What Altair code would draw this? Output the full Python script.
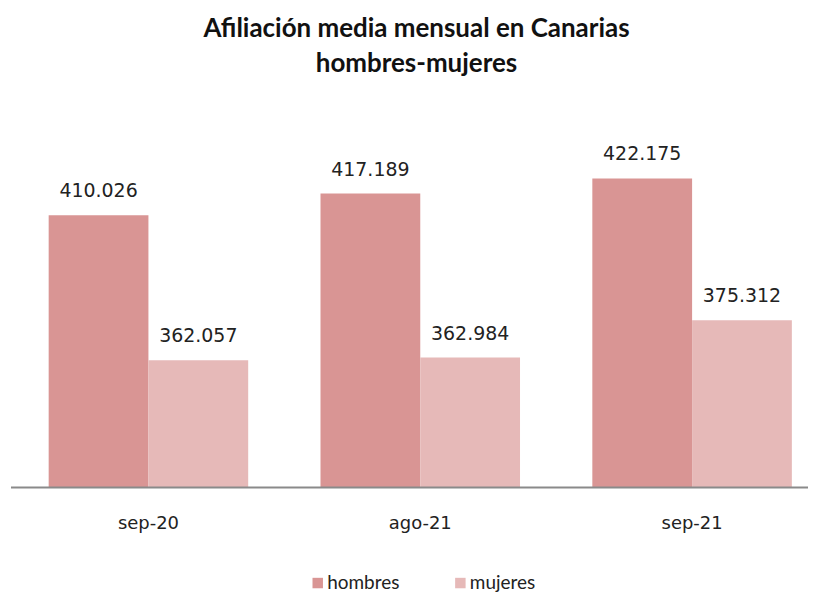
import altair as alt
import pandas as pd

meses = ["sep-20", "ago-21", "sep-21"]
series = ["hombres", "mujeres"]
hombres = [410026, 417189, 422175]
mujeres = [362057, 362984, 375312]
colores = ["#D99594", "#E6B9B8"]
titulo = ["Afiliación media mensual en Canarias", "hombres-mujeres"]

rows = []
for m, h, mu in zip(meses, hombres, mujeres):
    rows.append({"mes": m, "sexo": "hombres", "valor": h})
    rows.append({"mes": m, "sexo": "mujeres", "valor": mu})
df = pd.DataFrame(rows)
df["etiqueta"] = df["valor"].map(lambda v: f"{v:,}".replace(",", "."))

W = 799
H = 364
YMIN, YMAX = 320000, 440000

yscale = alt.Scale(domain=[YMIN, YMAX], zero=False, nice=False)

base = alt.Chart(df).encode(
    x=alt.X(
        "mes:N",
        sort=meses,
        scale=alt.Scale(paddingInner=0.266, paddingOuter=0.099, align=0.70),
        axis=alt.Axis(
            title=None, domain=False, ticks=False, labelAngle=0,
            labelFont="DejaVu Sans", labelFontSize=18, labelColor="#222222",
            labelPadding=41, labelBaseline="alphabetic",
        ),
    ),
    xOffset=alt.XOffset("sexo:N", sort=series,
                        scale=alt.Scale(paddingInner=0, paddingOuter=0)),
)

bars = base.mark_bar().encode(
    y=alt.Y("valor:Q", scale=yscale, axis=None),
    y2=alt.datum(YMIN),
    color=alt.Color(
        "sexo:N", sort=series,
        scale=alt.Scale(domain=series, range=colores),
        legend=alt.Legend(
            title=None, orient="none", legendX=298, legendY=450,
            direction="horizontal", symbolType="square", symbolSize=110,
            symbolStrokeWidth=0, labelFont="Lato", labelFontSize=19,
            labelColor="#222222", labelOffset=0, columnPadding=51,
        ),
    ),
)

labels = base.mark_text(
    baseline="alphabetic", dy=-18, font="DejaVu Sans", fontSize=19, color="#222222"
).encode(
    y=alt.Y("valor:Q", scale=yscale, axis=None),
    text="etiqueta:N",
)

rule = alt.Chart(pd.DataFrame({"v": [YMIN]})).mark_rule(
    color="#8a8a8a", strokeWidth=2
).encode(
    y=alt.Y("v:Q", scale=yscale, axis=None),
    x=alt.value(0),
    x2=alt.value(W),
)

chart = alt.layer(bars, labels, rule).properties(
    width=W,
    height=H,
    title=alt.Title(
        titulo, font="Lato", fontSize=26, fontWeight="bold", color="#111111",
        lineHeight=35, anchor="middle", offset=48, dx=7,
    ),
    padding={"left": 2, "top": 7, "right": 0, "bottom": 0},
).configure_view(stroke=None)

chart.save("out.html", embed_options={"renderer": "svg", "actions": False})
